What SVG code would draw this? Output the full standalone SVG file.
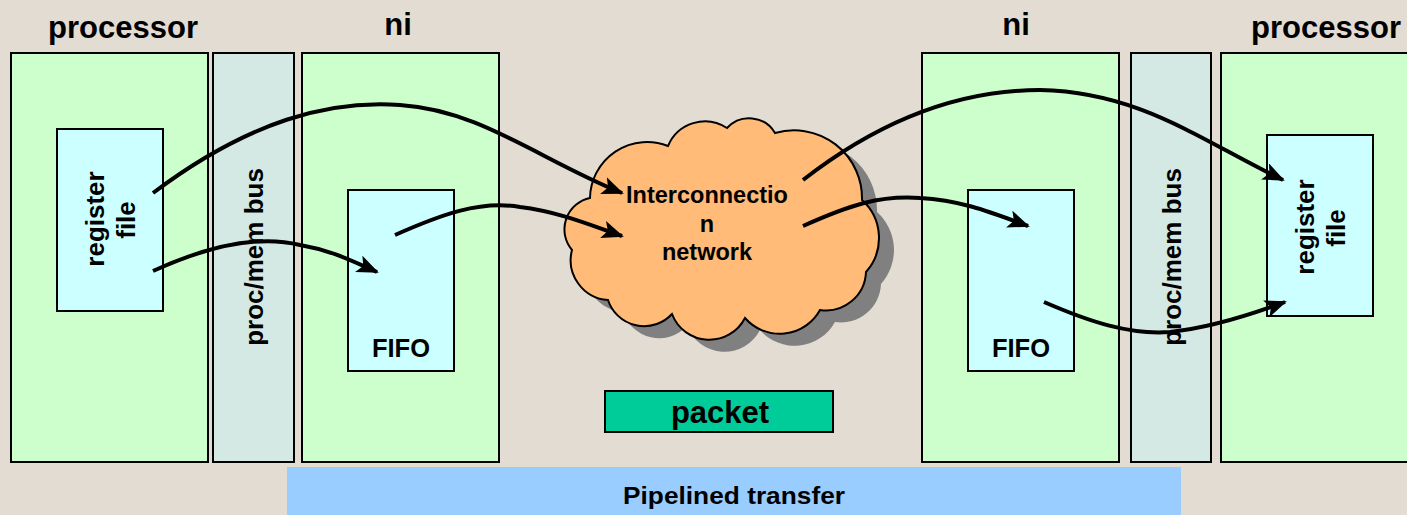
<svg xmlns="http://www.w3.org/2000/svg" width="1407" height="515" viewBox="0 0 1407 515">
<style>
text{font-family:"Liberation Sans",Arial,sans-serif;font-weight:bold;fill:#000}
.box{fill:#CCFFCC;stroke:#000;stroke-width:2}
.bus{fill:#D4E8E4;stroke:#000;stroke-width:2}
.inner{fill:#CCFFFF;stroke:#000;stroke-width:2}
.hdr{font-size:31px}
.lbl{font-size:23.5px}
.vert{font-size:26px}
.fifo{font-size:25.5px}
.conn{fill:none;stroke:#000;stroke-width:4}
</style>
<defs>
<marker id="ah" markerUnits="userSpaceOnUse" markerWidth="22" markerHeight="18" refX="20" refY="9" orient="auto">
<path d="M0,0 L22,9 L0,18 L5,9 Z" fill="#000"/>
</marker>
<path id="cloudshape" d="M590,198 A57 57 0 0 1 668,146 A40 40 0 0 1 727,128 A30 30 0 0 1 775,133 A68 68 0 0 1 862,200 A51 51 0 0 1 866,272 A40 40 0 0 1 820,310 A46 46 0 0 1 745,318 A40 40 0 0 1 672,314 A38 38 0 0 1 608,300 A40 40 0 0 1 572,250 A32 32 0 0 1 590,198 Z"/>
</defs>
<rect width="1407" height="515" fill="#E3DCD3"/>
<g id="titles">
<text class="hdr" x="123" y="38" text-anchor="middle">processor</text>
<text class="hdr" x="398" y="35" text-anchor="middle">ni</text>
<text class="hdr" x="1016" y="35" text-anchor="middle">ni</text>
<text class="hdr" x="1326" y="38" text-anchor="middle">processor</text>
</g>
<g id="proc-left"><rect class="box" x="11" y="53" width="197" height="409"/></g>
<g id="bus-left"><rect class="bus" x="213" y="53" width="81" height="409"/>
<text class="vert" transform="translate(263,257) rotate(-90)" text-anchor="middle">proc/mem bus</text></g>
<g id="ni-left"><rect class="box" x="302" y="53" width="197" height="409"/></g>
<g id="regfile-left"><rect class="inner" x="57" y="129" width="106" height="182"/>
<text class="vert" transform="translate(104,219) rotate(-90)" text-anchor="middle">register</text>
<text class="vert" transform="translate(135,220) rotate(-90)" text-anchor="middle">file</text></g>
<g id="fifo-left"><rect class="inner" x="348" y="190" width="106" height="181"/>
<text class="fifo" x="401" y="357" text-anchor="middle">FIFO</text></g>
<g id="ni-right"><rect class="box" x="922" y="53" width="197" height="409"/></g>
<g id="bus-right"><rect class="bus" x="1131" y="53" width="80" height="409"/>
<text class="vert" transform="translate(1181,257) rotate(-90)" text-anchor="middle">proc/mem bus</text></g>
<g id="proc-right"><rect class="box" x="1221" y="53" width="197" height="409"/></g>
<g id="regfile-right"><rect class="inner" x="1267" y="135" width="106" height="181"/>
<text class="vert" transform="translate(1314,227) rotate(-90)" text-anchor="middle">register</text>
<text class="vert" transform="translate(1345,228) rotate(-90)" text-anchor="middle">file</text></g>
<g id="fifo-right"><rect class="inner" x="968" y="190" width="106" height="181"/>
<text class="fifo" x="1021" y="357" text-anchor="middle">FIFO</text></g>
<g id="cloud">
<use href="#cloudshape" transform="translate(15,12)" fill="#808080"/>
<use href="#cloudshape" fill="#FFBB77" stroke="#000" stroke-width="2"/>
<text class="lbl" x="707" y="203" text-anchor="middle">Interconnectio</text>
<text class="lbl" x="707" y="232" text-anchor="middle">n</text>
<text class="lbl" x="707" y="260" text-anchor="middle">network</text>
</g>
<g id="packet"><rect x="605" y="391" width="228" height="41" fill="#00CC99" stroke="#000" stroke-width="2"/>
<text x="720" y="423" font-size="31" text-anchor="middle">packet</text></g>
<g id="pipelined"><rect x="287" y="467" width="894" height="48" fill="#99CCFF"/>
<text x="734" y="504" font-size="24" text-anchor="middle" textLength="222" lengthAdjust="spacingAndGlyphs">Pipelined transfer</text></g>
<g id="connectors">
<path class="conn" marker-end="url(#ah)" d="M153,193 C250,120 330,100 400,105 C480,110 540,160 622,193"/>
<path class="conn" marker-end="url(#ah)" d="M153,271 C210,245 260,235 300,245 C330,250 350,260 377,272"/>
<path class="conn" marker-end="url(#ah)" d="M395,235 C440,215 480,200 520,207 C560,212 590,225 622,236"/>
<path class="conn" marker-end="url(#ah)" d="M803,180 C880,120 960,90 1040,90 C1140,92 1200,140 1283,180"/>
<path class="conn" marker-end="url(#ah)" d="M803,226 C850,205 880,195 920,198 C960,200 990,212 1028,226"/>
<path class="conn" marker-end="url(#ah)" d="M1044,302 C1090,322 1130,335 1170,332 C1210,328 1250,315 1285,302"/>
</g>
</svg>
